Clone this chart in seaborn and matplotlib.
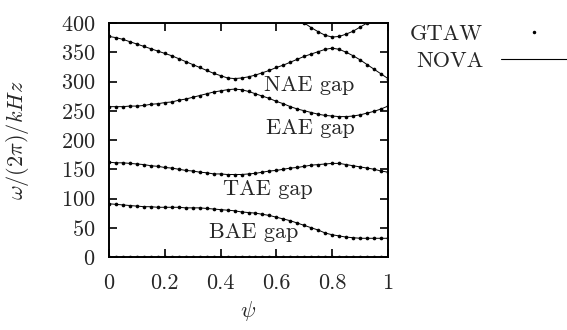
import matplotlib
matplotlib.use("Agg")
import matplotlib.pyplot as plt
from matplotlib.lines import Line2D
import numpy as np
import pandas as pd
import seaborn as sns

# radial coordinate, every 0.025
psi = [i / 40 for i in range(41)]

# continuum edges (kHz)
bae_upper = [91, 90, 89, 88, 87, 86, 86, 85, 85, 85, 85, 84, 84, 84, 83, 82, 81, 80, 79, 77,
             76, 75, 73, 71, 68, 65, 62, 58, 54, 50, 46, 41, 38, 36, 34, 33, 32, 32, 32, 32, 32]
tae_upper = [162, 161, 161, 160, 159, 158, 156, 155, 153, 152, 150, 148, 147, 145, 144, 142, 142,
             141, 141, 141, 142, 143, 145, 147, 148, 150, 152, 153, 155, 157, 158, 159, 160, 160,
             158, 156, 154, 152, 150, 147, 145]
eae_lower = [257, 257, 257, 258, 258, 259, 261, 262, 264, 265, 268, 270, 273, 276, 279, 282, 284,
             286, 287, 286, 283, 279, 275, 271, 266, 262, 257, 253, 250, 247, 244, 242, 241, 240,
             240, 241, 243, 246, 249, 253, 258]
eae_upper = [377, 375, 372, 368, 364, 360, 356, 352, 348, 344, 339, 334, 329, 324, 319, 314, 310,
             306, 305, 306, 308, 311, 315, 319, 324, 328, 333, 338, 343, 347, 351, 355, 357, 355,
             350, 344, 337, 329, 321, 313, 305]
zero_branch = [0] * 41

psi_top = [0.650, 0.675, 0.700, 0.725, 0.750, 0.775, 0.800, 0.825, 0.850, 0.875, 0.900, 0.925, 0.950]
nae_top = [414, 407, 400, 392, 385, 379, 376, 377, 381, 386, 393, 400, 407]

gap_labels = ["NAE gap", "EAE gap", "TAE gap", "BAE gap"]
gap_psi = [0.717, 0.72, 0.57, 0.52]
gap_freq = [293, 220, 115, 42]

rows = []
for name, vals in [("zero", zero_branch), ("bae", bae_upper), ("tae", tae_upper),
                   ("eae_lo", eae_lower), ("eae_hi", eae_upper)]:
    rows += [(name, p, v) for p, v in zip(psi, vals)]
rows += [("top", p, v) for p, v in zip(psi_top, nae_top)]
df = pd.DataFrame(rows, columns=["branch", "psi", "freq"])

sns.set_theme(style="ticks")
plt.rcParams["font.family"] = ["cmr10", "DejaVu Serif"]
plt.rcParams["mathtext.fontset"] = "cm"
plt.rcParams["axes.formatter.use_mathtext"] = True

fs = 16
fig = plt.figure(figsize=(5.67, 3.30), dpi=100)
ax = fig.add_axes([109 / 567, 73 / 330, 279 / 567, 234 / 330])

# NOVA: solid line, GTAW: dots
sns.lineplot(data=df, x="psi", y="freq", units="branch", estimator=None,
             color="black", lw=0.7, ax=ax, legend=False)
sns.scatterplot(data=df, x="psi", y="freq", color="black", s=7, linewidth=0,
                ax=ax, legend=False, zorder=3)

for lab, px, fy in zip(gap_labels, gap_psi, gap_freq):
    ax.text(px, fy, lab, ha="center", va="center", fontsize=fs)

ax.set_xlim(0, 1)
ax.set_ylim(0, 400)
ax.set_xticks([0, 0.2, 0.4, 0.6, 0.8, 1])
ax.set_xticklabels(["0", "0.2", "0.4", "0.6", "0.8", "1"])
ax.set_yticks(range(0, 401, 50))
ax.tick_params(direction="in", length=6, width=1.2, top=True, right=True,
               labelsize=fs, color="black")
ax.tick_params(axis="x", pad=12)
ax.tick_params(axis="y", pad=10)
for s in ax.spines.values():
    s.set_linewidth(1.4)
    s.set_color("black")
ax.set_xlabel(r"$\psi$", fontsize=fs)
ax.set_ylabel(r"$\omega/(2\pi)/kHz$", fontsize=fs)
ax.xaxis.set_label_coords(0.5, -0.18)
ax.yaxis.set_label_coords(-0.28, 0.5)

handles = [Line2D([], [], ls="none", marker=".", ms=3, color="black"),
           Line2D([], [], ls="-", lw=0.8, color="black")]
fig.legend(handles, ["GTAW", "NOVA"], loc="upper left", bbox_to_anchor=(410 / 567, 0.927),
           markerfirst=False, frameon=False, fontsize=16, handlelength=3.0,
           handletextpad=0.8, borderpad=0, borderaxespad=0, labelspacing=0.35)

fig.savefig("out.png", dpi=100)
